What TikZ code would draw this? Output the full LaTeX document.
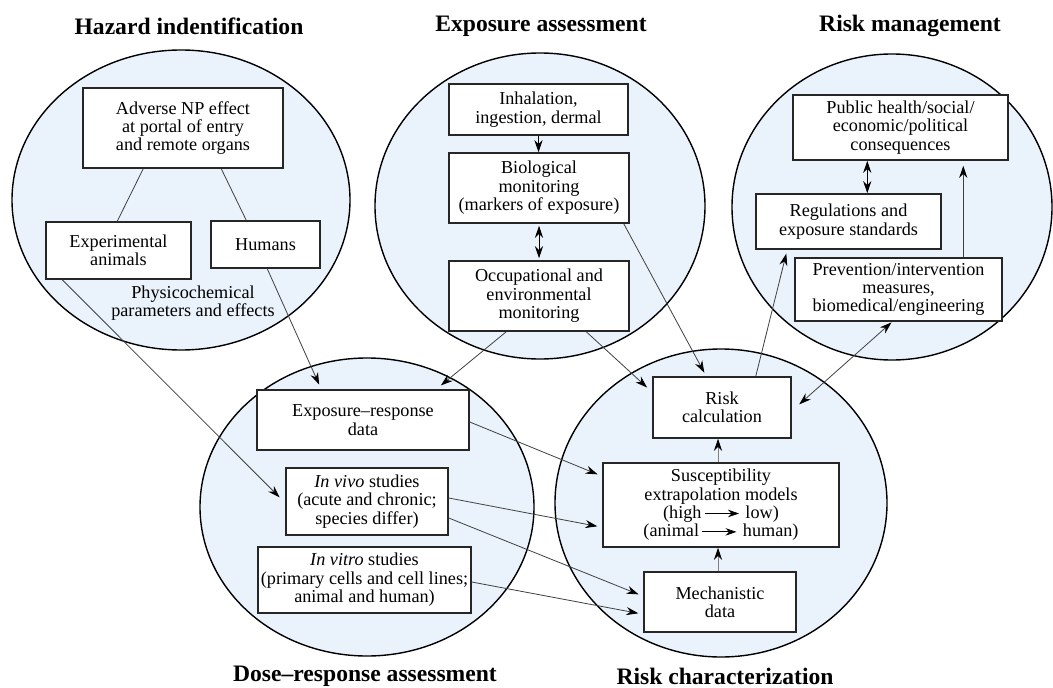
\documentclass[tikz,border=0pt]{standalone}
\usepackage{fontspec}
\setmainfont{Liberation Serif}
\usetikzlibrary{arrows.meta,calc}
\definecolor{zonefill}{HTML}{EAF3FC}
\definecolor{linkgray}{HTML}{404040}
% short arrow used inside running text
\newcommand\inlinearrow{\tikz[baseline=-0.28em]\draw[line width=0.8pt,-{Stealth[length=11pt,width=7.5pt]}] (0pt,0pt) -- (34pt,0pt);}
\begin{document}
\begin{tikzpicture}[x=1pt,y=-1pt,
  font=\fontsize{18.2}{18.4}\selectfont,
  zone/.style={draw=black, line width=1.4pt, fill=zonefill},
  box/.style={draw=black!85, line width=1.5pt, fill=white, align=center, inner sep=0pt},
  title/.style={font=\fontsize{23.6}{26}\selectfont\bfseries},
  note/.style={align=center, inner sep=0pt},
  link/.style={draw=linkgray, line width=0.8pt},
  arr/.style={link, -{Stealth[length=12pt,width=8pt,color=black]}},
  darr/.style={link, {Stealth[length=12pt,width=8pt,color=black]}-{Stealth[length=12pt,width=8pt,color=black]}},
]
\useasboundingbox (0,0) rectangle (1053,688);
\fill[white] (0,0) rectangle (1053,688);

% the five zones
\draw[zone] (181,200) ellipse [x radius=169pt, y radius=150pt];
\draw[zone] (540,206) ellipse [x radius=165pt, y radius=153pt];
\draw[zone] (892,207) ellipse [x radius=160pt, y radius=153pt];
\draw[zone] (367,507) ellipse [x radius=167pt, y radius=149pt];
\draw[zone] (721,503) ellipse [x radius=166pt, y radius=154pt];

% zone titles
\node[title] (tHaz) at (189,26) {Hazard indentification};
\node[title] (tExp) at (541,26) {Exposure assessment};
\node[title] (tMan) at (910,26) {Risk management};
\node[title] (tDose) at (365,676) {Dose–response assessment};
\node[title] (tChar) at (725,676) {Risk characterization};

% hazard identification
\node[box, minimum width=200pt, minimum height=80pt] (adv) at (183,128) {Adverse NP effect\\at portal of entry\\and remote organs};
\node[box, minimum width=145pt, minimum height=57pt] (exp) at (118.5,250.5) {Experimental\\animals};
\node[box, minimum width=109pt, minimum height=47pt] (hum) at (265.5,244.5) {Humans};
\node[note] (phys) at (193,303) {Physicochemical\\parameters and effects};

% exposure assessment
\node[box, minimum width=179pt, minimum height=51pt] (inh) at (538.5,109.5) {Inhalation,\\ingestion, dermal};
\node[box, minimum width=180pt, minimum height=70pt] (bio) at (539,188) {Biological\\monitoring\\(markers of exposure)};
\node[box, minimum width=180pt, minimum height=70pt] (occ) at (539,296) {Occupational and\\environmental\\monitoring};

% risk management
\node[box, minimum width=215pt, minimum height=65pt] (pub) at (900.5,127.5) {Public health/social/\\economic/political\\consequences};
\node[box, minimum width=185pt, minimum height=55pt] (reg) at (848.5,221.5) {Regulations and\\exposure standards};
\node[box, minimum width=207pt, minimum height=63pt] (prev) at (898.5,289.5) {Prevention/intervention\\measures,\\biomedical/engineering};

% dose-response assessment
\node[box, minimum width=212pt, minimum height=60pt] (er) at (363,420) {Exposure–response\\data};
\node[box, minimum width=162pt, minimum height=67pt] (viv) at (367,501.5) {\textit{In vivo} studies\\(acute and chronic;\\species differ)};
\node[box, minimum width=213pt, minimum height=66pt] (vit) at (364.5,580) {\textit{In vitro} studies\\(primary cells and cell lines;\\animal and human)};

% risk characterization
\node[box, minimum width=138pt, minimum height=61pt] (rc) at (722,407.5) {Risk\\calculation};
\node[box, minimum width=236pt, minimum height=84pt] (sus) at (721,505) {Susceptibility\\extrapolation models\\(high\,\inlinearrow\,\,low)\\(animal\,\inlinearrow\,\,human)};
\node[box, minimum width=152pt, minimum height=60pt] (mech) at (720,602) {Mechanistic\\data};

% links inside the hazard zone
\draw[link] ([xshift=61pt]adv.south west) -- ([xshift=72pt]exp.north west);
\draw[link] ([xshift=139pt]adv.south west) -- ([xshift=36pt]hum.north west);

% exposure chain
\draw[arr, draw=black] (inh.south) -- (inh.south |- bio.north);
\draw[darr, draw=black, shorten <=2pt, shorten >=2pt] (bio.south) -- (bio.south |- occ.north);

% management chain
\draw[darr, draw=black] ([xshift=75pt]pub.south west) -- ([xshift=112pt]reg.north west);
\draw[arr, shorten >=5pt] ([xshift=169pt]prev.north west) -- ([xshift=169pt]prev.north west |- pub.south);

% links between zones
\draw[arr, shorten >=5pt] ([xshift=57pt]hum.south west) -- ([xshift=65pt]er.north west);
\draw[arr, shorten >=8pt] ([xshift=17pt]exp.south west) -- ([yshift=-1.5pt]viv.west);
\draw[arr, shorten >=6pt] ([xshift=58pt]occ.south west) -- ([xshift=180pt]er.north west);
\draw[arr, shorten >=7pt] ([xshift=138pt]occ.south west) -- ([yshift=-16pt]rc.north west);
\draw[arr, shorten >=4pt] ([xshift=-6pt]bio.south east) -- ([xshift=54pt]rc.north west);
\draw[arr, shorten >=5pt] ([yshift=-2pt]er.east) -- ([yshift=-14pt]sus.north west);
\draw[arr, shorten >=5pt] ([yshift=3.5pt]viv.east) -- ([yshift=-65pt]sus.north west);
\draw[arr, shorten >=5pt] ([yshift=-16.5pt]viv.east) -- ([yshift=-25pt]mech.north west);
\draw[arr, shorten >=5pt] ([yshift=-2pt]vit.east) -- ([yshift=-43pt]mech.north west);
\draw[arr, shorten >=4pt] ([xshift=-36pt]rc.north east) -- ([xshift=32pt]reg.south west);
\draw[darr, shorten <=10pt, shorten >=1pt] ([yshift=-3.5pt]rc.east) -- ([xshift=98pt]prev.south west);

% risk characterization chain
\draw[arr, draw=gray] ([xshift=-2pt]mech.north) -- ([xshift=-2pt]mech.north |- sus.south);
\draw[arr, draw=gray] ([xshift=-3pt]sus.north) -- ([xshift=-3pt]sus.north |- rc.south);
\end{tikzpicture}
\end{document}
